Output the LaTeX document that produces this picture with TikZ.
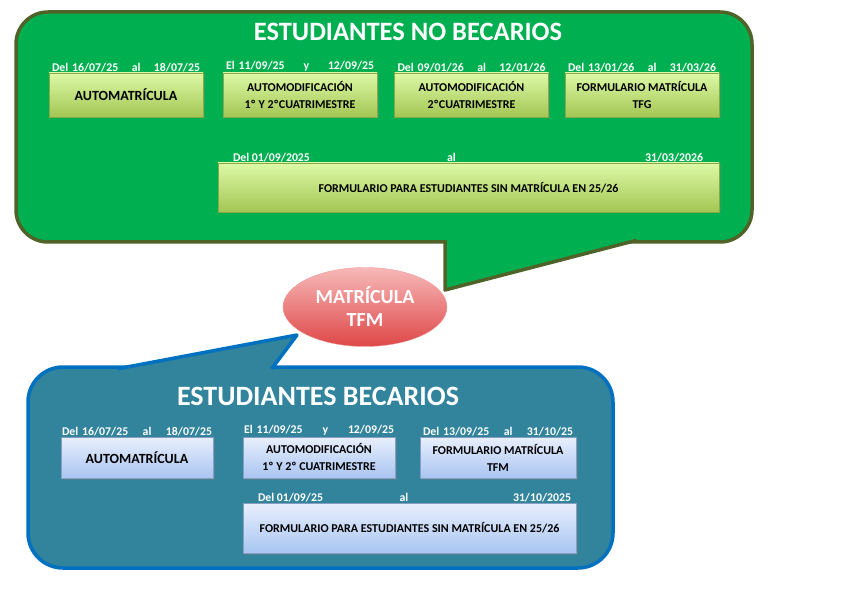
\documentclass[tikz,border=0pt]{standalone}
\usepackage{fontspec}
\setmainfont{Carlito}
\usetikzlibrary{positioning, shapes.geometric, shadows}

\definecolor{callgreen}{HTML}{00B050}
\definecolor{callgreenline}{HTML}{4F6228}
\definecolor{callblue}{HTML}{31849B}
\definecolor{callblueline}{HTML}{0070C0}
\definecolor{boxgreentop}{HTML}{DDF9A6}
\definecolor{boxgreenbot}{HTML}{A3C653}
\definecolor{boxbluetop}{HTML}{E8EFFC}
\definecolor{boxbluebot}{HTML}{A9C5F2}
\definecolor{ovaltop}{HTML}{F7B9B9}
\definecolor{ovalbot}{HTML}{DF4747}

\begin{document}
\begin{tikzpicture}[x=1pt, y=-1pt,
    greenbox/.style={draw=boxgreenbot!85!black, line width=0.4pt, top color=boxgreentop, bottom color=boxgreenbot,
        minimum width=154pt, minimum height=44pt, align=center, inner sep=2pt,
        font=\bfseries\fontsize{12}{17}\selectfont,
        drop shadow={shadow xshift=1.5pt, shadow yshift=-1.5pt, opacity=0.35}},
    bluebox/.style={greenbox, draw=boxbluebot!80!black, top color=boxbluetop, bottom color=boxbluebot,
        minimum width=152pt, minimum height=41pt},
    bigtext/.style={font=\bfseries\fontsize{14}{17}\selectfont},
    datelabel/.style={text=white, inner sep=1pt, font=\bfseries\fontsize{11.8}{13}\selectfont},
    calltitle/.style={text=white, font=\bfseries\fontsize{26.5}{30}\selectfont}]
    \useasboundingbox (0,0) rectangle (841,596);

    % Callouts
    \filldraw[fill=callgreen, draw=callgreenline, line width=3.5pt, rounded corners=32pt] (16,12) rectangle (752,242);
    \fill[callgreen] (445,236) -- (445,290) -- (653,236) -- cycle;
    \draw[callgreenline, line width=3.5pt, line join=round] (445,240.25) -- (445,290) -- (636.7,240.25);

    \filldraw[fill=callblue, draw=callblueline, line width=3.5pt, rounded corners=35pt] (28,367) rectangle (613,568);
    \fill[callblue] (297,335) -- (106,371) -- (270,371) -- cycle;
    \draw[callblueline, line width=3.5pt, line join=round] (117.7,368.75) -- (297,335) -- (271.7,368.75);

    % Titles
    \node[calltitle] (titleno) at (408,32) {ESTUDIANTES NO BECARIOS};
    \node[calltitle, font=\bfseries\fontsize{28}{32}\selectfont] (titlesi) at (318,396) {ESTUDIANTES BECARIOS};

    % Oval
    \node[ellipse, minimum width=164pt, minimum height=79pt, top color=ovaltop, bottom color=ovalbot,
        draw=ovalbot!55!white, line width=0.4pt, text=white, align=center, inner sep=0pt,
        font=\bfseries\fontsize{20}{23}\selectfont] (tfm) at (365,307) {MATRÍCULA\\TFM};

    % Nodes - no becarios
    \node[greenbox, bigtext] (nauto) at (126,95) {AUTOMATRÍCULA};
    \node[greenbox] (nmod) at (300,95) {AUTOMODIFICACIÓN\\1º Y 2ºCUATRIMESTRE};
    \node[greenbox] (nmodsec) at (471.5,95) {AUTOMODIFICACIÓN\\2ºCUATRIMESTRE};
    \node[greenbox] (ntfg) at (642,95) {FORMULARIO MATRÍCULA\\TFG};
    \node[greenbox, minimum width=501pt, minimum height=49pt] (nsin) at (468.5,187.5)
        {FORMULARIO PARA ESTUDIANTES SIN MATRÍCULA EN 25/26};

    \node[datelabel, text width=148pt, above=0pt of nauto] (dnauto) {Del 16/07/25\hfill al\hfill 18/07/25};
    \node[datelabel, text width=148pt, above=0pt of nmod] (dnmod) {El 11/09/25\hfill y\hfill 12/09/25};
    \node[datelabel, text width=148pt, above=0pt of nmodsec] (dnmodsec) {Del 09/01/26\hfill al\hfill 12/01/26};
    \node[datelabel, text width=148pt, above=0pt of ntfg] (dntfg) {Del 13/01/26\hfill al\hfill 31/03/26};
    \node[datelabel, anchor=south west] (dnsinA) at ([xshift=14pt]nsin.north west) {Del 01/09/2025};
    \node[datelabel, anchor=south] (dnsinB) at ([xshift=-17pt]nsin.north) {al};
    \node[datelabel, anchor=south east] (dnsinC) at ([xshift=-15pt]nsin.north east) {31/03/2026};

    % Nodes - becarios
    \node[bluebox, bigtext] (bauto) at (137,457.5) {AUTOMATRÍCULA};
    \node[bluebox] (bmod) at (319,457.5) {AUTOMODIFICACIÓN\\1º Y 2º CUATRIMESTRE};
    \node[bluebox, minimum width=156pt] (btfm) at (498,457.5) {FORMULARIO MATRÍCULA\\TFM};
    \node[bluebox, minimum width=333pt, minimum height=50pt] (bsin) at (409.5,528)
        {FORMULARIO PARA ESTUDIANTES SIN MATRÍCULA EN 25/26};

    \node[datelabel, text width=150pt, above=0pt of bauto] (dbauto) {Del 16/07/25\hfill al\hfill 18/07/25};
    \node[datelabel, text width=150pt, above=0pt of bmod] (dbmod) {El 11/09/25\hfill y\hfill 12/09/25};
    \node[datelabel, text width=150pt, above=0pt of btfm] (dbtfm) {Del 13/09/25\hfill al\hfill 31/10/25};
    \node[datelabel, anchor=south west] (dbsinA) at ([xshift=14pt]bsin.north west) {Del 01/09/25};
    \node[datelabel, anchor=south] (dbsinB) at ([xshift=-5.5pt]bsin.north) {al};
    \node[datelabel, anchor=south east] (dbsinC) at ([xshift=-4pt]bsin.north east) {31/10/2025};
\end{tikzpicture}
\end{document}
